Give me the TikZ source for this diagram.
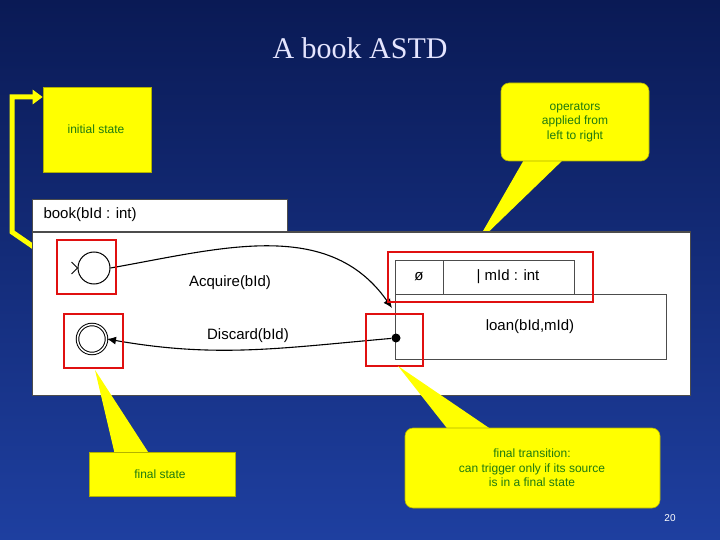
\documentclass[tikz,border=0pt]{standalone}
\usepackage{fontspec}
\setmainfont{Liberation Sans}
\newfontfamily\titlefont{Liberation Serif}
\usetikzlibrary{arrows.meta}
\definecolor{bgtop}{HTML}{0A1A55}
\definecolor{bgbot}{HTML}{1E3FA0}
\definecolor{callgreen}{HTML}{1E7A10}
\definecolor{yel}{HTML}{FFFF00}
\definecolor{redbox}{HTML}{E01010}
\begin{document}
\begin{tikzpicture}[x=1pt,y=-1pt,
  callout/.style={fill=yel,draw=yel!70!black,line width=0.6pt},
  ctext/.style={text=callgreen,font=\fontsize{12}{14.5}\selectfont,align=center},
  white box/.style={fill=white,draw=black!70,line width=1pt},
  redsq/.style={draw=redbox,line width=2.2pt},
  uml/.style={font=\fontsize{15}{18}\selectfont,text=black},
  state/.style={circle,draw=black,line width=1pt,minimum size=32pt,inner sep=0pt}]
\shade[top color=bgtop,bottom color=bgbot] (0,0) rectangle (720,540);
\useasboundingbox (0,0) rectangle (720,540);
\node[text=white!90!blue,font=\titlefont\fontsize{30}{34}\selectfont] (title) at (360,48) {A book ASTD};
% initial state callout
\node[callout,minimum width=108pt,minimum height=85pt,inner sep=0pt] (ini) at (97,129.5) {};
\node[ctext] (initxt) at (96,129) {initial state};
\coordinate (ia) at (60,265);
\coordinate (ib) at (12,232);
\coordinate (ic) at (12,97);
\draw[yel,line width=5pt,-{Triangle[length=10pt,width=14pt]}] (ia) -- (ib) -- (ic) -- (ini.west|-ic);
% top right callout
\fill[yel] (525,158) -- (475,245) -- (565,158) -- cycle;
\node[callout,rounded corners=8pt,minimum width=148pt,minimum height=78pt] (ops) at (575,122) {};
\node[ctext] (opstxt) at (575,122) {operators\\applied from\\left to right};
% UML boxes
\draw[white box] (32,200) rectangle (287,232);
\node[uml,anchor=west] (book) at (40,215) {book(bId : int)};
\draw[white box] (32,232) rectangle (690,395);
\node[state] (init) at (94,268) {};
\draw[line width=1pt] (init.west) -- ++(-6,-6) (init.west) -- ++(-6,6);
\node[state,double,double distance=1.5pt,minimum size=29pt] (fin) at (92,339) {};
\draw[white box] (395,260) rectangle (574,294);
\draw[black!70,line width=1pt] (443,260) -- (443,294);
\node[uml] (phi) at (419,277) {ø};
\node[uml] (mid) at (508,277) {| mId : int};
\draw[white box] (395,294) rectangle (666,359);
\node[uml] (loan) at (530,327) {loan(bId,mId)};
\coordinate (loantop) at (392,308);
\node[circle,fill=black,minimum size=9pt,inner sep=0pt] (dot) at (396,338) {};
\draw[line width=1.1pt,-{Latex[length=9pt,width=8pt]}] (init.east) to[out=10,in=125] (loantop);
\node[uml] (acq) at (230,283) {Acquire(bId)};
\draw[line width=1.1pt,-{Latex[length=9pt,width=8pt]}] (dot) to[out=185,in=-10] (fin.east);
\node[uml] (dis) at (248,336) {Discard(bId)};
% red boxes
\draw[redsq] (57,240) rectangle (116,294);
\draw[redsq] (64,314) rectangle (123,368);
\draw[redsq] (388,252) rectangle (593,302);
\draw[redsq] (366,314) rectangle (423,366);
% bottom callouts
\fill[yel] (95,370) -- (115,455) -- (150,455) -- cycle;
\node[callout,minimum width=146pt,minimum height=44pt,inner sep=0pt] (fs) at (162,474) {};
\node[ctext] (fstxt) at (160,474) {final state};
\fill[yel] (398,366) -- (450,432) -- (495,432) -- cycle;
\node[callout,rounded corners=8pt,minimum width=255pt,minimum height=80pt] (ft) at (532.5,468) {};
\node[ctext] (fttxt) at (532,468) {final transition:\\can trigger only if its source\\is in a final state};
\node[text=white,font=\fontsize{10}{12}\selectfont] (pg) at (670,518) {20};
\end{tikzpicture}
\end{document}
